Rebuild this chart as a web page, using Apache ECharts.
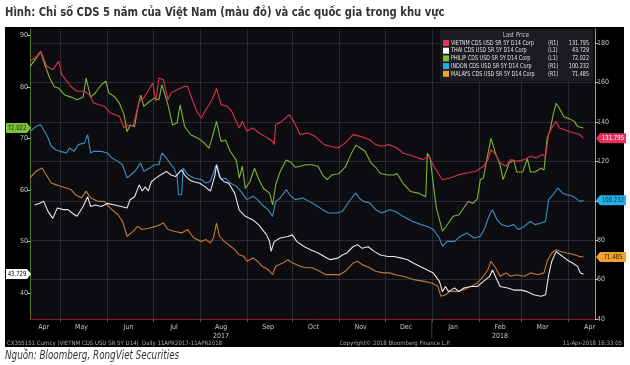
<!DOCTYPE html>
<html><head><meta charset="utf-8">
<script src="https://cdn.jsdelivr.net/npm/echarts@6/dist/echarts.min.js"></script>
<style>
html,body{margin:0;padding:0;background:#fff;}
#wrap{position:relative;width:630px;height:365px;overflow:hidden;}
#box{position:absolute;left:5px;top:27px;width:619px;height:320px;background:#000;}
#chart{position:absolute;left:0;top:0;width:630px;height:365px;}
</style></head><body>
<div id="wrap"><div id="box"></div><div id="chart"></div></div>
<script>
// ---- data: [day offset from startDate (11-Apr-2017), value] ----
const startDate = [2017, 3, 11];
const titleText = 'Hình: Chỉ số CDS 5 năm của Việt Nam (màu đỏ) và các quốc gia trong khu vực';
const sourceText = 'Nguồn: Bloomberg, RongViet Securities';
const seriesNames = ['VIETNM CDS USD SR 5Y D14 Corp','THAI CDS USD SR 5Y D14 Corp','PHILIP CDS USD SR 5Y D14 Corp','INDON CDS USD SR 5Y D14 Corp','MALAYS CDS USD SR 5Y D14 Corp'];
const axisTags = ['(R1)','(L1)','(L1)','(R1)','(R1)'];
const lastPrice = [131.795, 43.729, 72.022, 100.232, 71.485];
const monthNames = ['Jan','Feb','Mar','Apr','May','Jun','Jul','Aug','Sep','Oct','Nov','Dec'];
const leftTicks = [40,50,60,70,80,90];
const rightTicks = [40,60,80,100,120,140,160,180];

const vietnam = [[0,170.8],[4,173],[7,176],[11,168.3],[15,166.6],[19,170.8],[21,164],[27,158],[31,155.6],[36,155.6],[39,153.9],[42,149.6],[49,148],[53,144.6],[59,142.9],[62,137],[64,138.6],[68,137.8],[72,150.5],[75,152.2],[81,159.8],[83,150.5],[85,162.3],[88,161.4],[91,151.3],[93,154.7],[97,156.4],[102,158.1],[104,158],[107,151.3],[110,145.4],[113,142],[116,146.2],[120,151.3],[123,157],[126,148.8],[130,148],[133,145.4],[138,137],[140,140.4],[143,135.3],[147,137],[151,134.4],[155,132.7],[160,130.2],[161,128.5],[162,138.6],[166,140.3],[171,143.7],[174,140.3],[178,133.6],[183,134.4],[188,132.7],[194,128.5],[198,127.7],[203,126.8],[208,129.4],[213,133.6],[218,132.7],[224,131],[228,128.5],[232,127.7],[237,128.5],[242,126.8],[246,124.3],[249,123.5],[253,122.6],[259,120.9],[263,122.6],[267,116.6],[272,110.7],[277,111.6],[283,113.3],[288,114.1],[294,115],[299,117.5],[302,120.9],[304,126],[307,123.5],[310,119.2],[314,117.5],[317,120.9],[321,120],[326,120.9],[330,122.6],[334,121.8],[338,123.5],[340,122.6],[342,133.6],[344,137],[347,140.3],[349,137],[352,136.2],[355,135.3],[359,134.4],[362,133.9],[365,131.8]];

const thailand = [[3,57.1],[6,57.4],[9,57.8],[12,55.8],[15,54.5],[18,56.5],[22,56.2],[25,56.2],[28,55.5],[31,54.9],[35,56.8],[38,58.7],[40,56.8],[43,57.1],[47,56.8],[51,57.4],[56,57.1],[60,56.8],[64,56.5],[66,58.1],[69,58.7],[72,61],[74,59.8],[76,60.6],[78,59.8],[80,61.6],[83,62.3],[86,62.9],[90,63.6],[93,62.9],[96,62.6],[100,63.9],[102,62.9],[105,62],[108,61.6],[112,61.3],[115,60.7],[119,59.8],[122,62.9],[123,64.9],[125,62.6],[128,61.6],[131,61.3],[135,59.4],[138,56.1],[142,54.9],[147,54.2],[151,53.2],[156,51.3],[158,50],[159,48.1],[161,50],[165,50.7],[170,51],[173,51.3],[176,50],[181,49],[185,48.4],[190,47.8],[194,47.1],[198,46.5],[203,46.8],[206,47.4],[209,47.8],[213,49],[216,49.4],[219,48.7],[223,49],[227,48.1],[231,47.4],[236,47.1],[240,47.1],[245,46.8],[249,46.5],[253,45.8],[260,44.8],[266,43.9],[270,42.3],[272,40.3],[274,41.3],[276,40.3],[280,41],[283,40.3],[286,41],[291,41.3],[295,41.3],[299,42.3],[303,43.2],[305,44.5],[307,43.2],[310,41.3],[315,41],[319,40.6],[324,40.6],[328,40.3],[332,39.7],[337,39.4],[340,39.7],[342,43.5],[344,46.1],[347,48.1],[350,47.4],[354,46.5],[358,45.8],[361,45.2],[363,43.9],[365,43.7]];

const philippines = [[0,83.9],[4,85.5],[7,86.8],[9,84.9],[13,81.7],[16,80],[19,79.7],[23,78.4],[27,78],[31,77.5],[35,78],[37,81.7],[40,78],[43,78.8],[47,80.4],[50,81.1],[52,78.8],[56,78],[59,76.8],[62,74.6],[64,71.3],[66,72.6],[69,72.3],[71,75.9],[73,78.4],[75,76.2],[79,77.2],[82,77.8],[85,77.5],[87,80.4],[91,76.5],[94,72.6],[97,73],[99,76.5],[102,72.3],[106,70.7],[111,70],[115,69.1],[118,68.1],[120,70],[123,73.3],[126,69.4],[129,69.7],[132,67.5],[136,65.8],[138,62.3],[140,64.6],[142,60.3],[145,61.6],[148,64.2],[151,62],[154,60.3],[158,59.4],[160,57.1],[162,61],[165,63.6],[169,65.8],[172,65.4],[175,64.4],[178,64.6],[182,64.9],[186,64.9],[190,64.6],[193,62.9],[196,62],[199,62.9],[204,63.2],[208,64.5],[212,67.1],[215,68.7],[218,68.1],[221,67.5],[225,65.2],[228,64.4],[231,63.2],[236,62.9],[240,62.9],[242,63.2],[246,61.3],[251,59.7],[256,59.4],[261,58.7],[262,67.1],[264,66.1],[266,61],[268,56.5],[271,53.2],[272,52],[276,53.6],[279,54.9],[283,55.2],[286,56.5],[289,57.8],[292,57.4],[295,58.3],[297,62],[299,62.3],[301,65.5],[304,70],[307,67.1],[310,64.9],[312,62],[316,65.2],[319,65.8],[321,63.5],[325,63.5],[328,66.1],[330,63.5],[333,63.5],[337,64.2],[339,63.9],[341,70],[343,71.6],[345,74.6],[347,76.8],[349,75.9],[352,74.2],[355,73.9],[359,73.3],[361,72.3],[365,72.0]];

const indonesia = [[0,135.3],[4,137.8],[7,138.6],[9,136.1],[12,131.9],[14,127.7],[17,125.9],[20,125.1],[24,124.3],[26,126.8],[29,125.1],[32,128.5],[36,129.4],[38,133.6],[40,124.3],[42,125.1],[47,125.1],[51,124.3],[54,121.7],[58,120],[61,118.3],[64,111.6],[68,114.1],[70,115.8],[73,119.2],[75,115],[79,116.6],[82,118.3],[85,118.3],[87,124.3],[90,121.7],[93,118.3],[95,116.6],[97,112.4],[98,103.1],[100,103.1],[101,116.6],[104,113.3],[108,111.6],[113,110.8],[116,109],[119,109.9],[122,116.6],[123,118.3],[126,110.7],[129,111.6],[132,109],[136,107.4],[139,104.9],[140,105.7],[143,100.6],[147,102.3],[150,100.6],[153,98],[157,95.5],[160,92.1],[162,99.7],[165,101.4],[169,105.7],[172,102.3],[175,100.6],[180,101.4],[184,99.7],[188,98],[193,95.5],[197,93.8],[202,93.8],[206,94.6],[209,98],[213,102.3],[215,104],[217,101.4],[220,99.7],[224,98.9],[228,95.5],[232,93.8],[237,95.5],[241,94.6],[246,92.1],[252,89.6],[258,87.9],[262,87],[266,85.4],[270,81.1],[272,76.9],[275,79.4],[280,79.4],[284,82],[288,83.7],[293,81.1],[297,82],[300,86.2],[303,92.9],[305,95.5],[308,90.4],[311,87.9],[315,87],[319,87.9],[322,85.4],[326,87],[330,89.6],[333,87.9],[337,88.7],[340,89.6],[342,100.6],[345,103.1],[348,106.5],[351,104],[354,103.1],[358,102.3],[361,100.6],[363,99.7],[365,100.2]];

const malaysia = [[0,111.6],[4,115],[8,116.6],[10,114.1],[14,109],[17,108.2],[20,107.4],[24,106.5],[27,105.7],[30,103.1],[34,101.4],[37,104.9],[40,101.4],[45,99.7],[49,99.7],[53,96.3],[58,92.9],[61,89.6],[64,82],[68,84.5],[71,87],[74,85.4],[79,86.2],[83,87],[88,88.7],[91,85.4],[95,84.5],[100,83.7],[104,85.4],[108,81.1],[113,79.4],[116,80.3],[119,78.6],[121,81.1],[123,88.7],[125,82],[128,79.4],[131,77.7],[135,75.2],[138,72.6],[141,71.8],[143,69.3],[147,71],[150,69.3],[153,66.8],[157,65.1],[160,62.5],[162,66.8],[167,68.5],[170,70.1],[173,68.5],[178,66.8],[182,66],[186,66],[191,64.2],[195,62.5],[200,62.5],[204,62.5],[208,64.2],[213,68.4],[216,69.3],[219,67.6],[224,66],[228,64.2],[233,63.4],[237,63.4],[241,62.5],[246,61.7],[253,60],[260,59.1],[265,58.3],[269,56.6],[271,51.5],[274,52.3],[277,54],[282,54],[286,54.9],[291,56.6],[295,58.3],[299,61.7],[302,65.1],[304,69.3],[307,66],[310,61.7],[314,63.4],[317,61.7],[321,62.5],[326,61.7],[330,63.4],[335,62.5],[339,63.4],[341,69.3],[344,73.5],[347,75.2],[350,74.3],[354,73.5],[359,72.6],[362,71.8],[365,71.5]];

// month-start dates (grid lines) and mid-month label dates
const monthStarts = ['2017-05-01','2017-06-01','2017-07-01','2017-08-01','2017-09-01','2017-10-01','2017-11-01','2017-12-01','2018-01-01','2018-02-01','2018-03-01','2018-04-01'];
const monthLabelDates = ['2017-04-20','2017-05-15','2017-06-15','2017-07-15','2017-08-15','2017-09-15','2017-10-15','2017-11-15','2017-12-15','2018-01-15','2018-02-15','2018-03-15','2018-04-15'];
const axisEnd = '2018-04-18';

// ---- build ----
const DAY = 86400000;
const t0 = Date.UTC(startDate[0], startDate[1], startDate[2]);
const dayOf = s => { const p = s.split('-').map(Number); return (Date.UTC(p[0], p[1]-1, p[2]) - t0) / DAY; };

const lineColors = ['#d8324f','#e6e6ee','#7db53a','#3b8fc4','#c47a36'];
const tagColors  = ['#e8305a','#ffffff','#7cc236','#27aee8','#f2a12e'];
const tagText    = ['#ffffff','#000000','#10300a','#06304a','#3a2000'];
const yIdx = [1,0,0,1,1];
const dataSets = [vietnam, thailand, philippines, indonesia, malaysia];
const FONT = '"DejaVu Sans Condensed","Liberation Sans",sans-serif';

const chart = echarts.init(document.getElementById('chart'), null, {renderer:'canvas'});
const option = {
  animation: false,
  backgroundColor: 'transparent',
  textStyle: {fontFamily: FONT},
  grid: {left: 30, right: 35, top: 29, bottom: 46, show: true, backgroundColor: '#0c0c11', borderWidth: 0},
  xAxis: {
    type: 'value', min: 0, max: dayOf(axisEnd) + 0.6,
    axisLine: {show: true, onZero: false, lineStyle: {color: '#8a1d2e', width: 1}},
    axisTick: {show: true, length: 3, lineStyle: {color: '#555'}, customValues: monthStarts.map(dayOf)},
    splitLine: {show: true, lineStyle: {color: '#2a2a31', width: 1}},
    axisLabel: {
      customValues: monthLabelDates.map(dayOf),
      color: '#c8c8c8', fontSize: 7, margin: 4, lineHeight: 9, fontFamily: FONT,
      formatter: v => {
        const d = new Date(t0 + v*DAY); const m = d.getUTCMonth(); const y = d.getUTCFullYear();
        let s = monthNames[m];
        if (y === 2017 && m === 7) s += '\n2017';
        if (y === 2018 && m === 1) s += '\n2018';
        return s;
      }
    }
  },
  yAxis: [
    { type: 'value', position: 'left', min: 35, max: 91.2,
      axisLine: {show: true, lineStyle: {color: '#4f7a2c'}},
      axisTick: {show: true, length: 3, lineStyle: {color: '#bbb'}, customValues: leftTicks},
      axisLabel: {customValues: leftTicks, color: '#c8c8c8', fontSize: 7, margin: 2, fontFamily: FONT},
      splitLine: {show: false}
    },
    { type: 'value', position: 'right', min: 40, max: 187.2,
      axisLine: {show: true, lineStyle: {color: '#9a9a9a'}},
      axisTick: {show: true, length: 3, lineStyle: {color: '#bbb'}, customValues: rightTicks},
      axisLabel: {customValues: rightTicks, color: '#c8c8c8', fontSize: 7, margin: 2, fontFamily: FONT},
      splitLine: {show: true, lineStyle: {color: '#2a2a31', width: 1}}
    }
  ],
  series: dataSets.map((d, i) => ({
    name: seriesNames[i], type: 'line', yAxisIndex: yIdx[i], showSymbol: false,
    data: d, lineStyle: {color: lineColors[i], width: 1.1}, z: 10 - i
  }))
};
chart.setOption(option);

// ---- overlays: title, legend, value tags, footer ----
const g = [];
g.push({type:'text', x:5, y:13, scaleX:0.86, style:{text:titleText, fill:'#333', font:'bold 13px '+FONT, verticalAlign:'middle'}, z:20});
const lx = 440, ly = 29;
g.push({type:'rect', shape:{x:lx, y:ly, width:153, height:52}, style:{fill:'#1b1b20'}, z:50});
g.push({type:'text', x:516, y:ly+6, scaleX:0.85, style:{text:'Last Price', fill:'#d0d0d0', font:'7px '+FONT, align:'center', verticalAlign:'middle'}, z:51});
for (let i = 0; i < 5; i++) {
  const ry = ly + 14 + i*7.7;
  g.push({type:'rect', shape:{x:lx+3, y:ry-3, width:6, height:6}, style:{fill:tagColors[i]}, z:51});
  g.push({type:'text', x:lx+11, y:ry, scaleX:0.8, style:{text:seriesNames[i], fill:'#e0e0e0', font:'6.8px '+FONT, verticalAlign:'middle'}, z:51});
  g.push({type:'text', x:lx+108, y:ry, scaleX:0.8, style:{text:axisTags[i], fill:'#e0e0e0', font:'6.8px '+FONT, verticalAlign:'middle'}, z:51});
  g.push({type:'text', x:lx+149, y:ry, scaleX:0.8, style:{text:lastPrice[i].toFixed(3), fill:'#e0e0e0', font:'6.8px '+FONT, align:'right', verticalAlign:'middle'}, z:51});
}
for (let i = 0; i < 5; i++) {
  const y = chart.convertToPixel({yAxisIndex: yIdx[i]}, lastPrice[i]);
  let pts, tx;
  if (yIdx[i] === 0) { pts = [[6,y-5],[27,y-5],[31,y],[27,y+5],[6,y+5]]; tx = 17; }
  else { pts = [[596,y],[600,y-5],[626,y-5],[626,y+5],[600,y+5]]; tx = 613; }
  g.push({type:'polygon', shape:{points:pts}, style:{fill:tagColors[i]}, z:60});
  g.push({type:'text', x:tx, y:y, scaleX:0.85, style:{text:lastPrice[i].toFixed(3), fill:tagText[i], font:'7px '+FONT, align:'center', verticalAlign:'middle'}, z:61});
}
const xJan = chart.convertToPixel({xAxisIndex:0}, dayOf('2018-01-01'));
g.push({type:'line', shape:{x1:xJan, y1:320, x2:xJan, y2:338}, style:{stroke:'#444', lineWidth:1}, z:20});
g.push({type:'text', x:7, y:343, style:{text:'CX355151 Curncy (VIETNM CDS USD SR 5Y D14)  Daily 11APR2017-11APR2018', fill:'#a8a8a8', font:'6px '+FONT, verticalAlign:'middle'}, z:20});
g.push({type:'text', x:395, y:343, style:{text:'Copyright© 2018 Bloomberg Finance L.P.', fill:'#a8a8a8', font:'6px '+FONT, align:'center', verticalAlign:'middle'}, z:20});
g.push({type:'text', x:622, y:343, style:{text:'11-Apr-2018 16:33:05', fill:'#a8a8a8', font:'6px '+FONT, align:'right', verticalAlign:'middle'}, z:20});
g.push({type:'text', x:5, y:356, scaleX:0.85, style:{text:sourceText, fill:'#333', font:'italic 11.5px '+FONT, verticalAlign:'middle'}, z:20});
chart.setOption({graphic: g});
</script>
</body></html>
